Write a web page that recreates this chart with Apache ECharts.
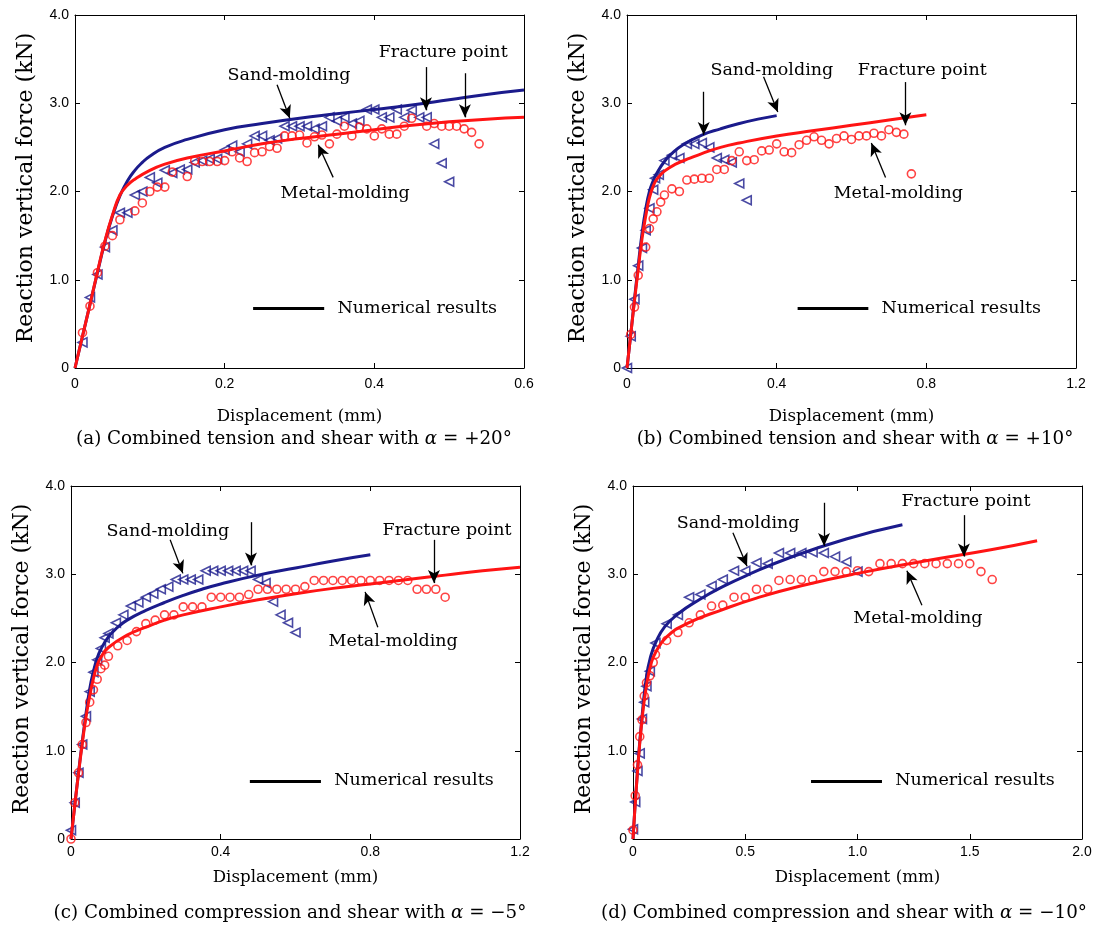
<!DOCTYPE html>
<html>
<head>
<meta charset="utf-8">
<script src="https://cdn.jsdelivr.net/npm/echarts@6/dist/echarts.min.js"></script>
<style>
  html, body { margin: 0; background: #fff; }
  #chart { width: 1097px; height: 929px; }
</style>
</head>
<body>
<div id="chart"></div>
<script>
// ---- measured data (displacement mm, force kN) ----

// (a) tension + shear, alpha = +20
const aSand = [[0.01,0.29],[0.02,0.80],[0.03,1.06],[0.04,1.37],[0.05,1.56],[0.06,1.76],[0.07,1.76],[0.08,1.96],[0.09,2.00],[0.10,2.16],
  [0.11,2.10],[0.12,2.24],[0.13,2.21],[0.14,2.25],[0.15,2.25],[0.16,2.33],[0.17,2.35],[0.18,2.37],[0.19,2.37],[0.20,2.47],
  [0.21,2.52],[0.22,2.45],[0.23,2.54],[0.24,2.63],[0.25,2.63],[0.26,2.58],[0.27,2.60],[0.28,2.74],[0.29,2.74],[0.30,2.74],
  [0.31,2.74],[0.32,2.71],[0.33,2.74],[0.34,2.84],[0.35,2.80],[0.36,2.84],[0.37,2.77],[0.38,2.80],[0.39,2.93],[0.40,2.93],
  [0.41,2.84],[0.42,2.84],[0.43,2.93],[0.44,2.84],[0.45,2.92],[0.46,2.84],[0.47,2.84],[0.48,2.54],[0.49,2.32],[0.50,2.11]];
const aMetal = [[0.01,0.40],[0.02,0.70],[0.03,1.08],[0.04,1.38],[0.05,1.50],[0.06,1.68],[0.08,1.78],[0.09,1.87],[0.10,2.00],
  [0.11,2.05],[0.12,2.05],[0.13,2.22],[0.15,2.17],[0.16,2.35],[0.17,2.34],[0.18,2.34],[0.19,2.34],[0.20,2.35],[0.21,2.45],
  [0.22,2.38],[0.23,2.34],[0.24,2.44],[0.25,2.45],[0.26,2.51],[0.27,2.49],[0.28,2.63],[0.29,2.63],[0.30,2.64],[0.31,2.55],
  [0.32,2.62],[0.33,2.64],[0.34,2.54],[0.35,2.65],[0.36,2.74],[0.37,2.63],[0.38,2.73],[0.39,2.71],[0.40,2.63],[0.41,2.71],
  [0.42,2.65],[0.43,2.65],[0.44,2.74],[0.45,2.83],[0.47,2.74],[0.48,2.77],[0.49,2.74],[0.50,2.74],[0.51,2.74],[0.52,2.71],
  [0.53,2.67],[0.54,2.54]];
const aSandFit = [[0,0],[0.01,0.36],[0.02,0.72],[0.03,1.08],[0.04,1.43],[0.05,1.72],[0.06,1.95],[0.07,2.12],[0.08,2.24],[0.09,2.33],
  [0.10,2.40],[0.12,2.50],[0.15,2.59],[0.20,2.70],[0.25,2.77],[0.30,2.83],[0.35,2.88],[0.40,2.93],[0.45,2.98],[0.50,3.04],[0.55,3.10],[0.60,3.15]];
const aMetalFit = [[0,0],[0.01,0.36],[0.02,0.72],[0.03,1.09],[0.04,1.44],[0.05,1.73],[0.06,1.96],[0.07,2.07],[0.08,2.14],[0.10,2.24],
  [0.12,2.31],[0.15,2.38],[0.20,2.46],[0.25,2.54],[0.30,2.60],[0.35,2.65],[0.40,2.70],[0.45,2.75],[0.50,2.79],[0.55,2.82],[0.60,2.84]];

// (b) tension + shear, alpha = +10
const bSand = [[0,0],[0.01,0.36],[0.02,0.78],[0.03,1.16],[0.04,1.36],[0.05,1.56],[0.06,1.81],[0.07,2.02],[0.075,2.15],[0.085,2.19],
  [0.10,2.35],[0.12,2.41],[0.14,2.38],[0.16,2.54],[0.18,2.54],[0.20,2.55],[0.22,2.50],[0.24,2.38],[0.26,2.36],[0.28,2.33],
  [0.30,2.09],[0.32,1.90]];
const bMetal = [[0.01,0.38],[0.02,0.69],[0.03,1.05],[0.05,1.37],[0.06,1.58],[0.07,1.69],[0.08,1.77],[0.09,1.88],[0.10,1.96],
  [0.12,2.03],[0.14,2.00],[0.16,2.13],[0.18,2.14],[0.20,2.15],[0.22,2.15],[0.24,2.25],[0.26,2.25],[0.28,2.35],[0.30,2.45],
  [0.32,2.35],[0.34,2.36],[0.36,2.46],[0.38,2.47],[0.40,2.54],[0.42,2.45],[0.44,2.44],[0.46,2.53],[0.48,2.58],[0.50,2.62],
  [0.52,2.58],[0.54,2.54],[0.56,2.60],[0.58,2.63],[0.60,2.59],[0.62,2.63],[0.64,2.63],[0.66,2.66],[0.68,2.63],[0.70,2.70],
  [0.72,2.67],[0.74,2.65],[0.76,2.20]];
const bSandFit = [[0,0],[0.01,0.38],[0.02,0.78],[0.03,1.16],[0.04,1.52],[0.05,1.80],[0.06,2.00],[0.07,2.12],[0.08,2.21],[0.10,2.34],
  [0.12,2.43],[0.15,2.53],[0.20,2.64],[0.25,2.71],[0.30,2.77],[0.35,2.82],[0.40,2.86]];
const bMetalFit = [[0,0],[0.01,0.38],[0.02,0.76],[0.03,1.12],[0.04,1.46],[0.05,1.72],[0.06,1.93],[0.07,2.06],[0.08,2.14],[0.10,2.23],
  [0.13,2.31],[0.17,2.38],[0.20,2.43],[0.25,2.50],[0.30,2.55],[0.40,2.63],[0.50,2.69],[0.60,2.75],[0.70,2.81],[0.80,2.87]];

// (c) compression + shear, alpha = -5
const cSand = [[0,0.10],[0.01,0.41],[0.02,0.75],[0.03,1.07],[0.04,1.39],[0.05,1.67],[0.06,1.89],[0.07,2.03],[0.08,2.16],[0.09,2.28],
  [0.10,2.33],[0.12,2.45],[0.14,2.54],[0.16,2.64],[0.18,2.68],[0.20,2.74],[0.22,2.78],[0.24,2.83],[0.26,2.86],[0.28,2.94],
  [0.30,2.94],[0.32,2.94],[0.34,2.94],[0.36,3.04],[0.38,3.04],[0.40,3.04],[0.42,3.04],[0.44,3.04],[0.46,3.04],[0.48,3.04],
  [0.50,2.94],[0.52,2.90],[0.54,2.69],[0.56,2.54],[0.58,2.45],[0.60,2.34]];
const cMetal = [[0,0],[0.01,0.41],[0.02,0.75],[0.03,1.07],[0.04,1.32],[0.05,1.55],[0.06,1.69],[0.07,1.81],[0.08,1.93],[0.09,1.97],
  [0.10,2.07],[0.125,2.19],[0.15,2.25],[0.175,2.35],[0.20,2.44],[0.225,2.48],[0.25,2.54],[0.275,2.54],[0.30,2.63],[0.325,2.63],
  [0.35,2.63],[0.375,2.74],[0.40,2.74],[0.425,2.74],[0.45,2.74],[0.475,2.77],[0.50,2.83],[0.525,2.83],[0.55,2.83],[0.575,2.83],
  [0.60,2.83],[0.625,2.86],[0.65,2.93],[0.675,2.93],[0.70,2.93],[0.725,2.93],[0.75,2.93],[0.775,2.93],[0.80,2.93],[0.825,2.93],
  [0.85,2.93],[0.875,2.93],[0.90,2.93],[0.925,2.83],[0.95,2.83],[0.975,2.83],[1.00,2.74]];
const cSandFit = [[0,0],[0.01,0.38],[0.02,0.75],[0.03,1.10],[0.04,1.42],[0.05,1.70],[0.06,1.90],[0.07,2.05],[0.08,2.15],[0.10,2.29],
  [0.125,2.40],[0.15,2.48],[0.20,2.59],[0.25,2.68],[0.30,2.76],[0.35,2.83],[0.40,2.89],[0.50,2.99],[0.60,3.07],[0.70,3.15],[0.80,3.22]];
const cMetalFit = [[0,0],[0.01,0.38],[0.02,0.74],[0.03,1.08],[0.04,1.38],[0.05,1.62],[0.06,1.82],[0.07,1.97],[0.08,2.06],[0.10,2.17],
  [0.15,2.31],[0.20,2.40],[0.25,2.48],[0.30,2.54],[0.40,2.63],[0.50,2.71],[0.60,2.78],[0.70,2.84],[0.80,2.89],[0.90,2.94],
  [1.00,2.99],[1.10,3.04],[1.20,3.08]];

// (d) compression + shear, alpha = -10
const dSand = [[0,0.11],[0.01,0.42],[0.02,0.77],[0.03,0.97],[0.04,1.36],[0.05,1.55],[0.06,1.73],[0.075,1.90],[0.10,2.22],[0.15,2.44],
  [0.20,2.54],[0.25,2.74],[0.30,2.77],[0.35,2.87],[0.40,2.94],[0.45,3.04],[0.50,3.04],[0.55,3.13],[0.60,3.12],[0.65,3.24],
  [0.70,3.24],[0.75,3.24],[0.80,3.25],[0.85,3.24],[0.90,3.20],[0.95,3.14],[1.00,3.03]];
const dMetal = [[0,0.10],[0.01,0.49],[0.02,0.84],[0.03,1.16],[0.04,1.35],[0.05,1.62],[0.06,1.77],[0.075,1.85],[0.09,2.00],[0.10,2.09],
  [0.15,2.25],[0.20,2.34],[0.25,2.45],[0.30,2.54],[0.35,2.64],[0.40,2.65],[0.45,2.74],[0.50,2.74],[0.55,2.83],[0.60,2.83],
  [0.65,2.93],[0.70,2.94],[0.75,2.94],[0.80,2.94],[0.85,3.03],[0.90,3.03],[0.95,3.03],[1.00,3.04],[1.05,3.03],[1.10,3.12],
  [1.15,3.12],[1.20,3.12],[1.25,3.12],[1.30,3.12],[1.35,3.12],[1.40,3.12],[1.45,3.12],[1.50,3.12],[1.55,3.03],[1.60,2.94]];
const dSandFit = [[0,0],[0.02,0.78],[0.04,1.38],[0.06,1.84],[0.08,2.08],[0.10,2.22],[0.14,2.40],[0.20,2.55],[0.30,2.72],[0.40,2.86],
  [0.50,2.98],[0.70,3.19],[0.95,3.40],[1.20,3.56]];
const dMetalFit = [[0,0],[0.02,0.76],[0.04,1.35],[0.06,1.74],[0.08,1.98],[0.10,2.11],[0.15,2.29],[0.24,2.44],[0.40,2.60],[0.55,2.73],
  [0.75,2.87],[1.00,3.01],[1.30,3.15],[1.60,3.28],[1.80,3.38]];

const yTitle = 'Reaction vertical force (kN)';
const xTitle = 'Displacement (mm)';
const captions = [
  '(a) Combined tension and shear with {i|α} = +20°',
  '(b) Combined tension and shear with {i|α} = +10°',
  '(c) Combined compression and shear with {i|α} = −5°',
  '(d) Combined compression and shear with {i|α} = −10°'
];

// annotation anchors, in data units of each panel
const notes = [
  { sand: [0.286, 3.32], frac: [0.492, 3.57], metal: [0.361, 1.98],
    arrows: [[0.270, 3.21, 0.287, 2.83], [0.469, 3.41, 0.469, 2.92], [0.521, 3.34, 0.521, 2.84], [0.345, 2.16, 0.325, 2.53]],
    key: [0.238, 0.333, 0.68] },
  { sand: [0.387, 3.37], frac: [0.789, 3.37], metal: [0.725, 1.98],
    arrows: [[0.365, 3.30, 0.403, 2.90], [0.205, 3.13, 0.205, 2.64], [0.744, 3.24, 0.744, 2.75], [0.691, 2.16, 0.653, 2.55]],
    key: [0.456, 0.645, 0.68] },
  { sand: [0.259, 3.48], frac: [1.005, 3.50], metal: [0.861, 2.24],
    arrows: [[0.265, 3.39, 0.299, 3.01], [0.481, 3.59, 0.481, 3.10], [0.970, 3.39, 0.970, 2.90], [0.820, 2.40, 0.786, 2.80]],
    key: [0.478, 0.668, 0.66] },
  { sand: [0.468, 3.58], frac: [1.483, 3.82], metal: [1.269, 2.50],
    arrows: [[0.445, 3.47, 0.508, 3.09], [0.851, 3.81, 0.851, 3.32], [1.474, 3.67, 1.474, 3.20], [1.287, 2.65, 1.220, 3.04]],
    key: [0.793, 1.109, 0.66] }
];

const SERIF = "'DejaVu Serif', 'Liberation Serif', serif";
const SANS = "'Liberation Sans', Arial, sans-serif";
const NAVY = '#1b1b8c';
const RED = '#ff1414';

const panels = [
  { left: 75, top: 15, xMax: 0.6, xStep: 0.2, sand: aSand, metal: aMetal, sandFit: aSandFit, metalFit: aMetalFit,
    labelGap: 9, nameGapX: 40, yName: [26, 188], cap: [294, 439] },
  { left: 627, top: 15, xMax: 1.2, xStep: 0.4, sand: bSand, metal: bMetal, sandFit: bSandFit, metalFit: bMetalFit,
    labelGap: 9, nameGapX: 40, yName: [578, 188], cap: [855, 439] },
  { left: 71, top: 486, xMax: 1.2, xStep: 0.4, sand: cSand, metal: cMetal, sandFit: cSandFit, metalFit: cMetalFit,
    labelGap: 6, nameGapX: 30, yName: [22, 659], cap: [290, 913] },
  { left: 633, top: 486, xMax: 2.0, xStep: 0.5, sand: dSand, metal: dMetal, sandFit: dSandFit, metalFit: dMetalFit,
    labelGap: 6, nameGapX: 30, yName: [584, 659], cap: [844, 913] }
];

const fmt = v => (v === 0 ? '0' : v.toFixed(1));

const tick = { show: true, inside: true, length: 5, lineStyle: { color: '#000', width: 1 } };
const line = { show: true, onZero: false, lineStyle: { color: '#000', width: 1 } };

const grids = [], xAxes = [], yAxes = [], series = [], graphics = [];

panels.forEach((p, i) => {
  grids.push({ left: p.left, top: p.top, width: 449, height: 353 });

  xAxes.push({
    type: 'value', gridIndex: i, min: 0, max: p.xMax, interval: p.xStep,
    axisLine: line, axisTick: tick, splitLine: { show: false },
    axisLabel: { color: '#000', fontFamily: SANS, fontSize: 14, margin: p.labelGap, formatter: fmt },
    name: xTitle, nameLocation: 'middle', nameGap: p.nameGapX,
    nameTextStyle: { color: '#000', fontFamily: SERIF, fontSize: 16.7 }
  });
  xAxes.push({
    type: 'value', gridIndex: i, position: 'top', min: 0, max: p.xMax, interval: p.xStep,
    axisLine: line, axisTick: tick, axisLabel: { show: false }, splitLine: { show: false }
  });
  yAxes.push({
    type: 'value', gridIndex: i, min: 0, max: 4, interval: 1,
    axisLine: line, axisTick: tick, splitLine: { show: false },
    axisLabel: { color: '#000', fontFamily: SANS, fontSize: 14, margin: 6, formatter: fmt }
  });
  yAxes.push({
    type: 'value', gridIndex: i, position: 'right', min: 0, max: 4, interval: 1,
    axisLine: line, axisTick: tick, axisLabel: { show: false }, splitLine: { show: false }
  });

  const n = notes[i];
  const txt = (name, c, pos) => ({
    name, coord: c,
    label: { show: true, position: pos || 'inside', distance: 0, formatter: name, color: '#000', fontFamily: SERIF, fontSize: 17.5 }
  });

  series.push({
    type: 'scatter', xAxisIndex: 2 * i, yAxisIndex: 2 * i, z: 2,
    data: p.sand, symbol: 'triangle', symbolRotate: 90, symbolSize: 9,
    itemStyle: { color: 'rgba(0,0,0,0)', borderColor: NAVY, borderWidth: 1.6 },
    markLine: {
      silent: true, animation: false, symbol: ['none', 'arrow'], symbolSize: [9, 13],
      label: { show: false }, lineStyle: { color: '#000', width: 1.3, type: 'solid' },
      data: n.arrows.map(a => [{ coord: [a[0], a[1]] }, { coord: [a[2], a[3]] }])
    }
  });
  series.push({
    type: 'scatter', xAxisIndex: 2 * i, yAxisIndex: 2 * i, z: 2,
    data: p.metal, symbol: 'circle', symbolSize: 8,
    itemStyle: { color: 'rgba(0,0,0,0)', borderColor: RED, borderWidth: 1.6 },
    markLine: {
      silent: true, animation: false, symbol: ['none', 'none'],
      label: { show: false }, lineStyle: { color: '#000', width: 3, type: 'solid' },
      data: [[{ coord: [n.key[0], n.key[2]] }, { coord: [n.key[1], n.key[2]] }]]
    }
  });
  series.push({
    type: 'line', xAxisIndex: 2 * i, yAxisIndex: 2 * i, z: 3,
    data: p.sandFit, showSymbol: false, smooth: 0.5,
    lineStyle: { color: NAVY, width: 3 }, itemStyle: { color: NAVY },
    markPoint: {
      silent: true, animation: false, symbol: 'circle', symbolSize: 1,
      itemStyle: { color: 'rgba(0,0,0,0)' },
      data: [
        txt('Sand-molding', n.sand),
        txt('Fracture point', n.frac),
        txt('Metal-molding', n.metal),
        txt('Numerical results', [n.key[1] + (n.key[1] - n.key[0]) * 0.18, n.key[2]], 'right')
      ]
    }
  });
  series.push({
    type: 'line', xAxisIndex: 2 * i, yAxisIndex: 2 * i, z: 3,
    data: p.metalFit, showSymbol: false, smooth: 0.5,
    lineStyle: { color: RED, width: 3 }, itemStyle: { color: RED }
  });

  graphics.push({
    type: 'text', x: p.yName[0], y: p.yName[1], rotation: Math.PI / 2,
    style: {
      text: yTitle, fill: '#000', fontFamily: SERIF, fontSize: 22,
      align: 'center', verticalAlign: 'middle'
    }
  });
  graphics.push({
    type: 'text', x: p.cap[0], y: p.cap[1],
    style: {
      text: captions[i], fill: '#000', fontFamily: SERIF, fontSize: 18.3,
      align: 'center', verticalAlign: 'middle',
      rich: { i: { fontFamily: SERIF, fontSize: 18.3, fontStyle: 'italic' } }
    }
  });
});

const chart = echarts.init(document.getElementById('chart'));
chart.setOption({
  animation: false,
  backgroundColor: '#fff',
  grid: grids,
  xAxis: xAxes,
  yAxis: yAxes,
  series: series,
  graphic: graphics
});
</script>
</body>
</html>
